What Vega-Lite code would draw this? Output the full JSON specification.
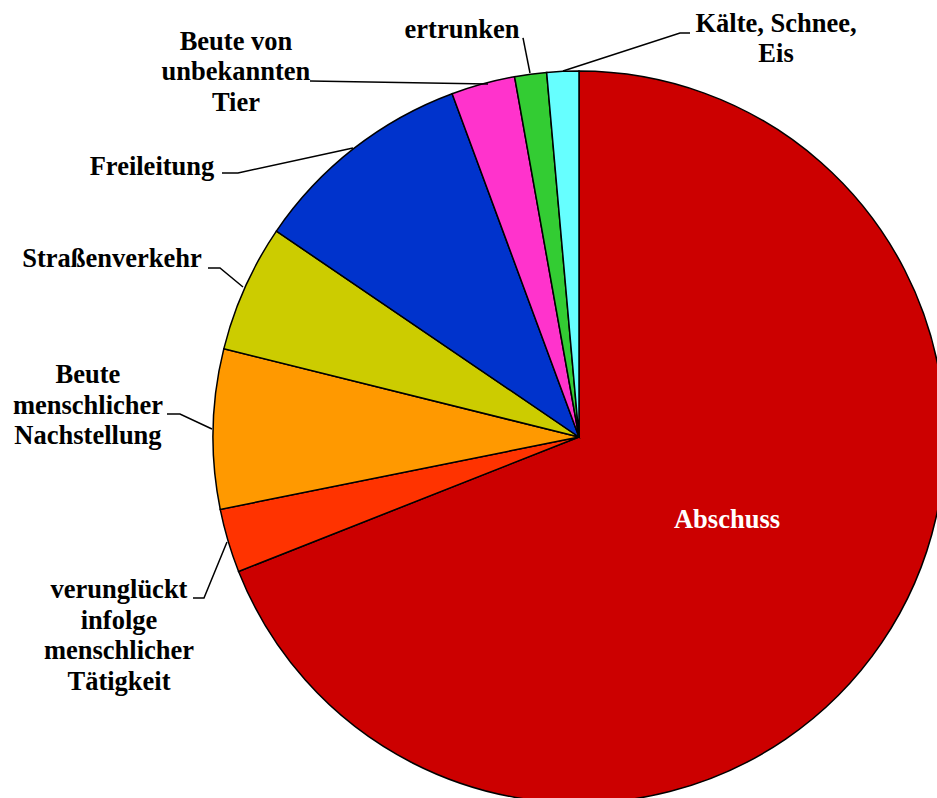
{
  "$schema": "https://vega.github.io/schema/vega-lite/v6.json",
  "width": 716,
  "height": 722,
  "autosize": {"type": "none"},
  "padding": {"left": 221, "top": 76, "right": 0, "bottom": 0},
  "background": "white",
  "config": {"view": {"stroke": null}},
  "datasets": {
    "slices": [
      {"cause": "Abschuss", "n": 49, "rank": 1},
      {"cause": "verunglückt infolge menschlicher Tätigkeit", "n": 2, "rank": 2},
      {"cause": "Beute menschlicher Nachstellung", "n": 5, "rank": 3},
      {"cause": "Straßenverkehr", "n": 4, "rank": 4},
      {"cause": "Freileitung", "n": 7, "rank": 5},
      {"cause": "Beute von unbekannten Tier", "n": 2, "rank": 6},
      {"cause": "ertrunken", "n": 1, "rank": 7},
      {"cause": "Kälte, Schnee, Eis", "n": 1, "rank": 8}
    ],
    "labels": [
      {"label": "Abschuss", "x": 40.44, "y": -24.86},
      {"label": "verunglückt\ninfolge\nmenschlicher\nTätigkeit", "x": -125.68, "y": -43.99},
      {"label": "Beute\nmenschlicher\nNachstellung", "x": -134.15, "y": 14.75},
      {"label": "Straßenverkehr", "x": -127.6, "y": 46.45},
      {"label": "Freileitung", "x": -116.67, "y": 71.58},
      {"label": "Beute von\nunbekannten\nTier", "x": -93.72, "y": 105.74},
      {"label": "ertrunken", "x": -31.97, "y": 109.02},
      {"label": "Kälte, Schnee,\nEis", "x": 53.83, "y": 110.66}
    ],
    "leaders": [
      {"id": "unbek", "seq": 1, "x": -73.5, "y": 97.27},
      {"id": "unbek", "seq": 2, "x": -24.86, "y": 96.45},
      {"id": "ertr", "seq": 1, "x": -15.3, "y": 109.02},
      {"id": "ertr", "seq": 2, "x": -13.39, "y": 99.45},
      {"id": "kaelte", "seq": 1, "x": -4.37, "y": 100.0},
      {"id": "kaelte", "seq": 2, "x": 27.6, "y": 110.38},
      {"id": "kaelte", "seq": 3, "x": 30.33, "y": 110.38},
      {"id": "frei", "seq": 1, "x": -97.54, "y": 72.13},
      {"id": "frei", "seq": 2, "x": -93.17, "y": 72.13},
      {"id": "frei", "seq": 3, "x": -61.75, "y": 78.96},
      {"id": "strasse", "seq": 1, "x": -101.37, "y": 46.17},
      {"id": "strasse", "seq": 2, "x": -98.09, "y": 46.17},
      {"id": "strasse", "seq": 3, "x": -91.8, "y": 40.98},
      {"id": "mensch", "seq": 1, "x": -112.57, "y": 6.28},
      {"id": "mensch", "seq": 2, "x": -109.02, "y": 6.28},
      {"id": "mensch", "seq": 3, "x": -100.27, "y": 2.19},
      {"id": "verun", "seq": 1, "x": -105.46, "y": -43.99},
      {"id": "verun", "seq": 2, "x": -102.46, "y": -43.99},
      {"id": "verun", "seq": 3, "x": -96.17, "y": -28.69}
    ]
  },
  "layer": [
    {
      "data": {"name": "slices"},
      "mark": {"type": "arc", "outerRadius": 366, "stroke": "black", "strokeWidth": 1.5},
      "encoding": {
        "theta": {"field": "n", "type": "quantitative", "stack": true},
        "order": {"field": "rank", "type": "quantitative"},
        "color": {
          "field": "cause",
          "type": "nominal",
          "legend": null,
          "scale": {
            "domain": ["Abschuss", "verunglückt infolge menschlicher Tätigkeit", "Beute menschlicher Nachstellung", "Straßenverkehr", "Freileitung", "Beute von unbekannten Tier", "ertrunken", "Kälte, Schnee, Eis"],
            "range": ["#CC0000", "#FF3300", "#FF9900", "#CCCC00", "#0033CC", "#FF33CC", "#33CC33", "#66FFFF"]
          }
        }
      }
    },
    {
      "data": {"name": "leaders"},
      "mark": {"type": "line", "color": "black", "strokeWidth": 1.5},
      "encoding": {
        "x": {"field": "x", "type": "quantitative", "axis": null, "scale": {"domain": [-97.81, 97.81], "zero": false, "nice": false}},
        "y": {"field": "y", "type": "quantitative", "axis": null, "scale": {"domain": [-98.63, 98.63], "zero": false, "nice": false}},
        "detail": {"field": "id", "type": "nominal"},
        "order": {"field": "seq", "type": "quantitative"}
      }
    },
    {
      "data": {"name": "labels"},
      "mark": {"type": "text", "font": "Liberation Serif", "fontWeight": "bold", "fontSize": 26.5, "align": "center", "baseline": "alphabetic", "lineBreak": "\n", "lineHeight": 30.5},
      "encoding": {
        "x": {"field": "x", "type": "quantitative", "axis": null, "scale": {"domain": [-97.81, 97.81], "zero": false, "nice": false}},
        "y": {"field": "y", "type": "quantitative", "axis": null, "scale": {"domain": [-98.63, 98.63], "zero": false, "nice": false}},
        "text": {"field": "label", "type": "nominal"},
        "color": {"condition": {"test": "datum.label === 'Abschuss'", "value": "white"}, "value": "black"}
      }
    }
  ]
}
